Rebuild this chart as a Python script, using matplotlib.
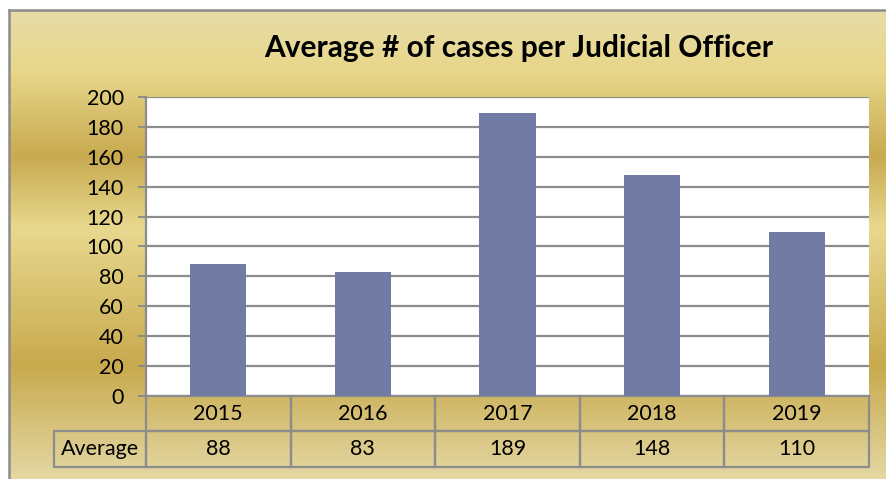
import matplotlib.pyplot as plt
import matplotlib.transforms as mtransforms
from matplotlib.patches import Rectangle
from matplotlib.colors import to_rgb
import numpy as np

years = ['2015', '2016', '2017', '2018', '2019']
average = [88, 83, 189, 148, 110]
row_label = 'Average'
title = 'Average # of cases per Judicial Officer'

W, H = 887, 479
plt.rcParams['font.family'] = ['Lato', 'DejaVu Sans']

fig = plt.figure(figsize=(W / 100, H / 100), dpi=100)
fig.patch.set_facecolor('white')

# gold gradient background inside the frame
bg = fig.add_axes([10 / W, 0, 1 - 10 / W, (H - 11) / H], zorder=-5)
stops_y = [0, 60, 145, 218, 355, 470]
stops_c = ['#E6DCA8', '#E8D78A', '#C8AA50', '#E8D88E', '#C8AA4E', '#E4D8A4']
rows = np.arange(470)
rgb = np.array([to_rgb(c) for c in stops_c])
grad = np.stack([np.interp(rows, stops_y, rgb[:, k]) for k in range(3)], axis=1)
bg.imshow(grad[:, None, :], aspect='auto', extent=[0, 1, 0, 1], origin='upper')
bg.axis('off')

# frame lines (top and left)
fig.add_artist(plt.Line2D([9 / W, 1], [1 - 10 / H] * 2, color='#8C8C8C', lw=1.8))
fig.add_artist(plt.Line2D([9 / W] * 2, [0, 1 - 10 / H], color='#8C8C8C', lw=1.8))

ax = fig.add_axes([146 / W, (H - 396) / H, (869 - 146) / W, (396 - 97) / H])
ax.set_facecolor('white')
x = np.arange(len(years))
ax.bar(x, average, width=0.39, color='#717BA3', zorder=3)
ax.set_xlim(-0.5, len(years) - 0.5)
ax.set_ylim(0, 200)
ax.set_yticks(range(0, 201, 20))
ax.set_xticks([])
ax.grid(axis='y', color='#8C8C8C', lw=1.6, zorder=1)
for s in ['top', 'right', 'bottom']:
    ax.spines[s].set_visible(False)
ax.spines['left'].set_color('#8C8C8C')
ax.spines['left'].set_linewidth(1.6)
ax.tick_params(axis='y', length=6, width=1.4, color='#8C8C8C', labelsize=15.5, pad=10)

ax.set_title(title, fontsize=21.5, fontweight='bold', x=0.515, y=1.105)

# data table below the plot
trans = mtransforms.blended_transform_factory(ax.transData, ax.transAxes)
r1 = 35 / 299
r2 = 71 / 299
fs = 15.5
edge = dict(fill=False, edgecolor='#8C8C8C', lw=1.6, clip_on=False)
for i, (yr, v) in enumerate(zip(years, average)):
    ax.add_patch(Rectangle((i - 0.5, -r1), 1, r1, transform=trans, **edge))
    ax.add_patch(Rectangle((i - 0.5, -r2), 1, r2 - r1, transform=trans, **edge))
    ax.text(i, -r1 / 2, yr, transform=trans, ha='center', va='center', fontsize=fs)
    ax.text(i, -(r1 + r2) / 2, str(v), transform=trans, ha='center', va='center', fontsize=fs)
lw_ax = 92 / 723
ax.add_patch(Rectangle((-lw_ax, -r2), lw_ax, r2 - r1, transform=ax.transAxes, **edge))
ax.text(-lw_ax / 2, -(r1 + r2) / 2, row_label, transform=ax.transAxes,
        ha='center', va='center', fontsize=fs)

fig.savefig('out.png', dpi=100)
